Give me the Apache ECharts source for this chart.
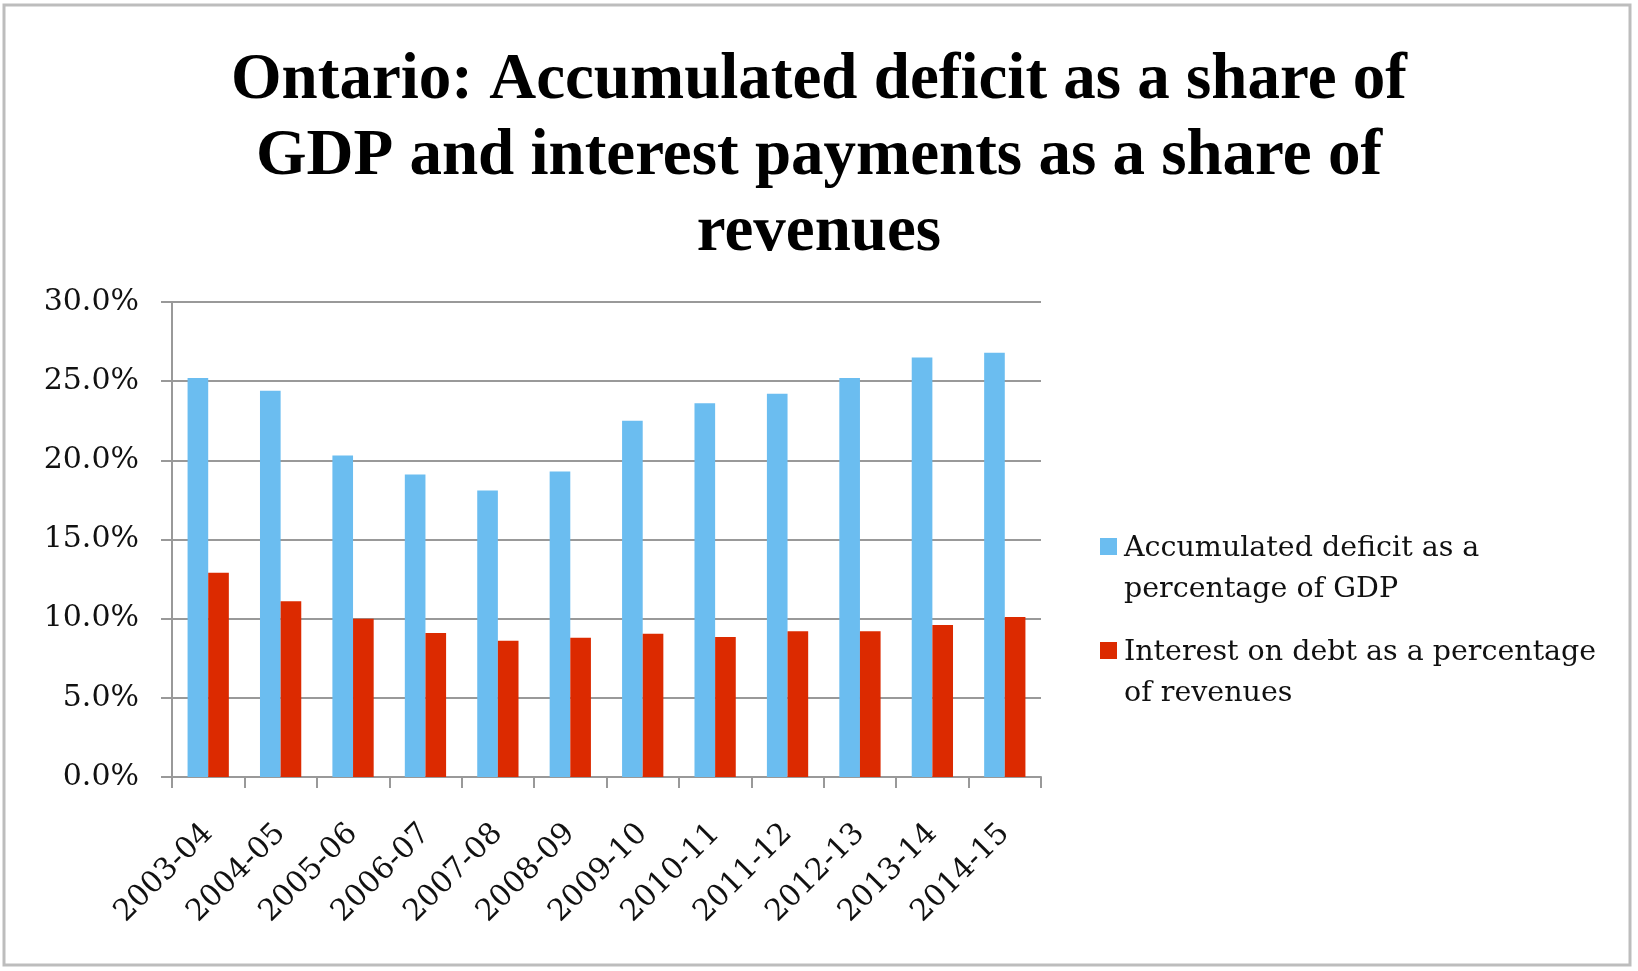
<!DOCTYPE html>
<html><head><meta charset="utf-8">
<script src="https://cdn.jsdelivr.net/npm/echarts@6/dist/echarts.min.js"></script>
<style>html,body{margin:0;padding:0;background:#fff}#c{width:1638px;height:971px}</style>
</head><body><div id="c"></div>
<script>
const titleText = 'Ontario: Accumulated deficit as a share of\nGDP and interest payments as a share of\nrevenues';
const categories = ['2003-04','2004-05','2005-06','2006-07','2007-08','2008-09','2009-10','2010-11','2011-12','2012-13','2013-14','2014-15'];
const seriesNames = ['Accumulated deficit as a\npercentage of GDP', 'Interest on debt as a percentage\nof revenues'];
const deficitGDP = [25.2, 24.4, 20.3, 19.1, 18.1, 19.3, 22.5, 23.6, 24.2, 25.2, 26.5, 26.8];
const interestRev = [12.9, 11.1, 10.0, 9.1, 8.6, 8.8, 9.05, 8.85, 9.2, 9.2, 9.6, 10.1];
const yTicks = { min: 0, max: 30, interval: 5 };

const chart = echarts.init(document.getElementById('c'));
const markerIcon = 'path://M0,0h10v10h-10z M0,36.4h0.01v0.01h-0.01z';
chart.setOption({
  animation: false,
  backgroundColor: '#fff',
  title: {
    text: titleText, left: 'center', top: 38,
    textStyle: { fontFamily: 'Liberation Serif', fontWeight: 'bold', fontSize: 65, lineHeight: 76, color: '#000' }
  },
  graphic: [{ type: 'rect', shape: { x: 4, y: 5, width: 1626, height: 960 }, style: { fill: 'none', stroke: '#bdbdbd', lineWidth: 3 }, silent: true }],
  legend: {
    orient: 'vertical', left: 1095, top: 523,
    itemWidth: 17, itemHeight: 62, itemGap: 22,
    icon: markerIcon,
    textStyle: { fontFamily: 'DejaVu Serif', fontSize: 28.5, lineHeight: 41, color: '#111', padding: [0,0,0,2] },
    data: seriesNames
  },
  grid: { left: 172, right: 597, top: 302, bottom: 194, containLabel: false },
  xAxis: {
    type: 'category', data: categories,
    axisLine: { lineStyle: { color: '#999', width: 2 } },
    axisTick: { show: true, length: 11, lineStyle: { color: '#999', width: 2 } },
    axisLabel: { rotate: 45, fontFamily: 'DejaVu Serif', fontSize: 30, color: '#111', margin: 52 }
  },
  yAxis: {
    type: 'value', min: yTicks.min, max: yTicks.max, interval: yTicks.interval,
    axisLine: { show: true, lineStyle: { color: '#999', width: 2 } },
    axisTick: { show: true, length: 11, lineStyle: { color: '#999', width: 2 } },
    splitLine: { lineStyle: { color: '#999', width: 2 } },
    axisLabel: { formatter: v => v.toFixed(1) + '%', fontFamily: 'DejaVu Serif', fontSize: 30, color: '#111', margin: 33 }
  },
  series: [
    { name: seriesNames[0], type: 'bar', data: deficitGDP, itemStyle: { color: '#6bbdf0' }, barGap: '0%', barCategoryGap: '43%' },
    { name: seriesNames[1], type: 'bar', data: interestRev, itemStyle: { color: '#dc2a00' }, barGap: '0%', barCategoryGap: '43%' }
  ]
});
</script></body></html>
